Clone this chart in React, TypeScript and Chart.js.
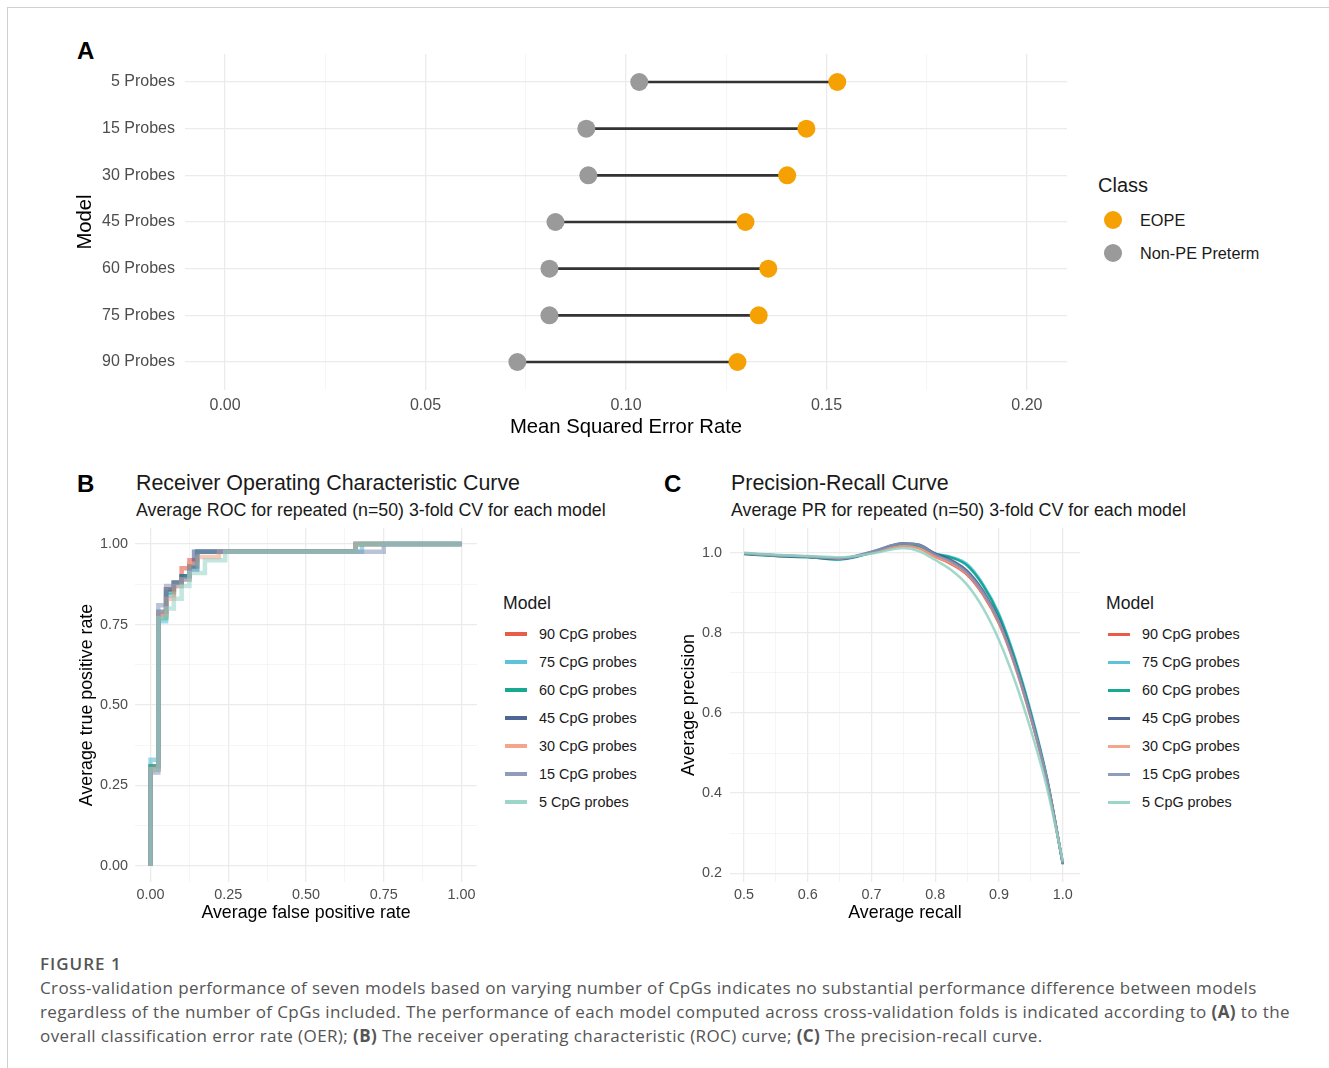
import React, { useEffect, useRef } from 'react';
import { Chart, registerables } from 'chart.js';
Chart.register(...registerables);

const FONT = "'Liberation Sans', Arial, Helvetica, sans-serif";

// ---------- Panel A data ----------
const modelsA = ['5 Probes', '15 Probes', '30 Probes', '45 Probes', '60 Probes', '75 Probes', '90 Probes'];
const eopeMSE = [0.1527, 0.1450, 0.1402, 0.1298, 0.1355, 0.1331, 0.1278];
const nonPeMSE = [0.1033, 0.0901, 0.0906, 0.0824, 0.0809, 0.0809, 0.0729];
const xMajorA = [0, 0.05, 0.1, 0.15, 0.2];
const xMinorA = [0.025, 0.075, 0.125, 0.175];
const rowsA = [1, 2, 3, 4, 5, 6, 7];
const classNames = ['EOPE', 'Non-PE Preterm'];
const classColors = ['#F5A104', '#9A9A9A'];

// ---------- Panels B / C ----------
const cpgModels = ['90 CpG probes', '75 CpG probes', '60 CpG probes', '45 CpG probes', '30 CpG probes', '15 CpG probes', '5 CpG probes'];
const cpgColors = ['#E64B35', '#4DBBD5', '#00A087', '#3C5488', '#F39B7F', '#8491B4', '#91D1C2'];

// ROC step points [fpr, tpr]
const roc90 = [[0, 0], [0, 0.31], [0.025, 0.78], [0.05, 0.86], [0.075, 0.88], [0.1, 0.925], [0.125, 0.95], [0.15, 0.976], [0.66, 1], [1, 1]];
const roc75 = [[0, 0], [0, 0.33], [0.025, 0.76], [0.05, 0.84], [0.075, 0.87], [0.1, 0.9], [0.125, 0.92], [0.15, 0.976], [0.68, 1], [1, 1]];
const roc60 = [[0, 0], [0, 0.31], [0.025, 0.77], [0.05, 0.85], [0.075, 0.88], [0.1, 0.9], [0.125, 0.93], [0.15, 0.976], [0.66, 1], [1, 1]];
const roc45 = [[0, 0], [0, 0.3], [0.025, 0.79], [0.05, 0.86], [0.075, 0.88], [0.1, 0.9], [0.125, 0.93], [0.14, 0.976], [0.66, 1], [1, 1]];
const roc30 = [[0, 0], [0, 0.3], [0.025, 0.78], [0.05, 0.83], [0.075, 0.87], [0.1, 0.89], [0.125, 0.94], [0.15, 0.96], [0.22, 0.976], [0.66, 1], [1, 1]];
const roc15 = [[0, 0], [0, 0.29], [0.025, 0.81], [0.05, 0.87], [0.075, 0.88], [0.1, 0.89], [0.125, 0.92], [0.15, 0.976], [0.75, 1], [1, 1]];
const roc5 = [[0, 0], [0, 0.3], [0.025, 0.77], [0.05, 0.8], [0.075, 0.83], [0.1, 0.87], [0.125, 0.91], [0.175, 0.95], [0.24, 0.976], [0.66, 1], [1, 1]];
const rocCurves = [roc90, roc75, roc60, roc45, roc30, roc15, roc5];
const rocMajor = [0, 0.25, 0.5, 0.75, 1];
const rocMinor = [0.125, 0.375, 0.625, 0.875];

// PR smoothed curves
const prRecall = [0.5, 0.55, 0.6, 0.65, 0.7, 0.75, 0.775, 0.8, 0.825, 0.85, 0.875, 0.9, 0.925, 0.95, 0.975, 1.0];
const pr90 = [0.998, 0.994, 0.99, 0.986, 1.0, 1.018, 1.012, 0.99, 0.972, 0.945, 0.895, 0.823, 0.718, 0.587, 0.433, 0.226];
const pr75 = [0.998, 0.993, 0.99, 0.983, 1.0, 1.021, 1.018, 0.998, 0.99, 0.972, 0.922, 0.848, 0.738, 0.603, 0.44, 0.224];
const pr60 = [0.997, 0.992, 0.989, 0.984, 1.0, 1.02, 1.016, 0.997, 0.988, 0.968, 0.918, 0.843, 0.733, 0.598, 0.437, 0.222];
const pr45 = [0.998, 0.993, 0.99, 0.985, 1.002, 1.024, 1.02, 0.998, 0.982, 0.955, 0.905, 0.832, 0.725, 0.592, 0.435, 0.224];
const pr30 = [0.999, 0.994, 0.991, 0.986, 1.0, 1.017, 1.011, 0.99, 0.974, 0.948, 0.898, 0.826, 0.72, 0.588, 0.433, 0.225];
const pr15 = [0.999, 0.994, 0.991, 0.986, 1.003, 1.023, 1.019, 0.996, 0.978, 0.95, 0.9, 0.828, 0.722, 0.59, 0.434, 0.225];
const pr5 = [1.0, 0.995, 0.992, 0.989, 0.998, 1.012, 1.004, 0.982, 0.957, 0.92, 0.862, 0.782, 0.68, 0.557, 0.415, 0.23];
const prCurves = [pr90, pr75, pr60, pr45, pr30, pr15, pr5];
const prXMajor = [0.5, 0.6, 0.7, 0.8, 0.9, 1.0];
const prXMinor = [0.55, 0.65, 0.75, 0.85, 0.95];
const prYMajor = [0.2, 0.4, 0.6, 0.8, 1.0];
const prYMinor = [0.3, 0.5, 0.7, 0.9];

// ---------- helpers ----------
const near = (a: number, b: number) => Math.abs(a - b) < 1e-9;

function rgba(hex: string, a: number) {
  const n = parseInt(hex.slice(1), 16);
  return `rgba(${(n >> 16) & 255},${(n >> 8) & 255},${n & 255},${a})`;
}

function axis(o: any) {
  const all = [...o.major, ...o.minor].sort((a: number, b: number) => a - b);
  const isMajor = (v: number) => o.major.some((m: number) => near(m, v));
  const left = o.position === 'left';
  return {
    type: 'linear',
    position: o.position,
    min: o.min,
    max: o.max,
    reverse: !!o.reverse,
    offset: false,
    afterBuildTicks: (s: any) => {
      s.ticks = all.map((v: number) => ({ value: v }));
    },
    afterFit: (s: any) => {
      if (left) s.width = o.size;
      else s.height = o.size;
      s.paddingTop = 0;
      s.paddingBottom = 0;
      s.paddingLeft = 0;
      s.paddingRight = 0;
    },
    grid: {
      offset: false,
      drawTicks: false,
      color: (c: any) => (c.tick && isMajor(c.tick.value) ? '#EBEBEB' : '#F3F3F3'),
      lineWidth: (c: any) => (c.tick && isMajor(c.tick.value) ? 1.3 : 0.8),
    },
    border: { display: false },
    ticks: {
      autoSkip: false,
      maxRotation: 0,
      minRotation: 0,
      padding: o.pad,
      color: '#4D4D4D',
      font: { family: FONT, size: o.fontSize },
      callback: (v: number) => (isMajor(v) ? o.fmt(v) : ''),
    },
    title: {
      display: true,
      text: o.title,
      color: '#000000',
      font: { family: FONT, size: o.titleSize },
      padding: left ? { top: o.titlePad, bottom: 0 } : { top: 0, bottom: o.titlePad },
    },
  };
}

function useChart(config: any) {
  const ref = useRef<HTMLCanvasElement | null>(null);
  useEffect(() => {
    if (!ref.current) return;
    const chart = new Chart(ref.current, config);
    return () => chart.destroy();
  }, []);
  return ref;
}

const baseOptions = (padding: any) => ({
  animation: false,
  responsive: false,
  maintainAspectRatio: false,
  devicePixelRatio: 1,
  events: [],
  layout: { padding },
  plugins: { legend: { display: false }, tooltip: { enabled: false }, title: { display: false } },
});

// ---------- Chart configs ----------
const configA = {
  type: 'bar',
  data: {
    datasets: [
      {
        type: 'scatter',
        label: classNames[0],
        data: rowsA.map((r, i) => ({ x: eopeMSE[i], y: r })),
        backgroundColor: classColors[0],
        pointRadius: 9,
        pointBorderWidth: 0,
        order: 0,
      },
      {
        type: 'scatter',
        label: classNames[1],
        data: rowsA.map((r, i) => ({ x: nonPeMSE[i], y: r })),
        backgroundColor: classColors[1],
        pointRadius: 9,
        pointBorderWidth: 0,
        order: 1,
      },
      {
        type: 'bar',
        label: 'range',
        indexAxis: 'y',
        data: rowsA.map((r, i) => ({ x: [nonPeMSE[i], eopeMSE[i]], y: r })),
        backgroundColor: '#333333',
        barThickness: 2,
        borderWidth: 0,
        order: 2,
      },
    ],
  },
  options: {
    ...baseOptions({ top: 14, right: 23, left: 0, bottom: 0 }),
    indexAxis: 'y',
    scales: {
      x: axis({
        position: 'bottom', min: -0.01, max: 0.21, major: xMajorA, minor: xMinorA,
        fmt: (v: number) => v.toFixed(2), size: 60, pad: 6, fontSize: 16,
        title: 'Mean Squared Error Rate', titleSize: 20.3, titlePad: 10.8,
      }),
      y: axis({
        position: 'left', min: 0.4, max: 7.6, reverse: true, major: rowsA, minor: [],
        fmt: (v: number) => modelsA[Math.round(v) - 1], size: 125, pad: 10, fontSize: 16,
        title: 'Model', titleSize: 20.3, titlePad: 12.8,
      }),
    },
  },
};

const configB = {
  type: 'scatter',
  data: {
    datasets: rocCurves.map((c, i) => ({
      label: cpgModels[i],
      data: c.map(([x, y]) => ({ x, y })),
      showLine: true,
      stepped: 'before',
      borderColor: rgba(cpgColors[i], 0.55),
      backgroundColor: rgba(cpgColors[i], 0.55),
      borderWidth: 4.5,
      pointRadius: 0,
      order: cpgModels.length - 1 - i,
    })),
  },
  options: {
    ...baseOptions({ top: 8, right: 13, left: 0, bottom: 0 }),
    scales: {
      x: axis({
        position: 'bottom', min: -0.05, max: 1.05, major: rocMajor, minor: rocMinor,
        fmt: (v: number) => v.toFixed(2), size: 48, pad: 4.4, fontSize: 14.4,
        title: 'Average false positive rate', titleSize: 17.8, titlePad: 6.3,
      }),
      y: axis({
        position: 'left', min: -0.05, max: 1.05, major: rocMajor, minor: rocMinor,
        fmt: (v: number) => v.toFixed(2), size: 65, pad: 7, fontSize: 14.4,
        title: 'Average true positive rate', titleSize: 17.8, titlePad: 6.3,
      }),
    },
  },
};

const configC = {
  type: 'scatter',
  data: {
    datasets: prCurves.map((c, i) => ({
      label: cpgModels[i],
      data: prRecall.map((r, j) => ({ x: r, y: c[j] })),
      showLine: true,
      cubicInterpolationMode: 'monotone',
      borderColor: rgba(cpgColors[i], 0.85),
      backgroundColor: rgba(cpgColors[i], 0.85),
      borderWidth: 2.5,
      pointRadius: 0,
      order: cpgModels.length - 1 - i,
    })),
  },
  options: {
    ...baseOptions({ top: 8, right: 10, left: 0, bottom: 0 }),
    scales: {
      x: axis({
        position: 'bottom', min: 0.478, max: 1.027, major: prXMajor, minor: prXMinor,
        fmt: (v: number) => v.toFixed(1), size: 48, pad: 4.4, fontSize: 14.4,
        title: 'Average recall', titleSize: 17.8, titlePad: 6.3,
      }),
      y: axis({
        position: 'left', min: 0.178, max: 1.062, major: prYMajor, minor: prYMinor,
        fmt: (v: number) => v.toFixed(1), size: 70, pad: 8, fontSize: 14.4,
        title: 'Average precision', titleSize: 17.8, titlePad: 18.3,
      }),
    },
  },
};

// ---------- UI pieces ----------
function T(props: { x: number; cy: number; size: number; color?: string; weight?: any; family?: string; spacing?: number; children: any }) {
  const lh = Math.round(props.size * 1.25);
  return (
    <div
      style={{
        position: 'absolute',
        left: props.x,
        top: props.cy - lh / 2,
        lineHeight: lh + 'px',
        fontSize: props.size,
        color: props.color || '#1a1a1a',
        fontWeight: props.weight || 400,
        fontFamily: props.family || FONT,
        letterSpacing: props.spacing ? props.spacing + 'px' : undefined,
        whiteSpace: 'nowrap',
      }}
    >
      {props.children}
    </div>
  );
}

function LineLegend(props: { x: number; keyH: number; alpha: number }) {
  const ys = [634, 662, 690, 718, 746, 774, 802];
  return (
    <>
      <T x={props.x - 2} cy={603} size={17.6}>Model</T>
      {cpgModels.map((m, i) => (
        <React.Fragment key={m}>
          <div
            style={{
              position: 'absolute',
              left: props.x,
              top: ys[i] - props.keyH / 2,
              width: 22,
              height: props.keyH,
              background: rgba(cpgColors[i], props.alpha),
            }}
          />
          <T x={props.x + 34} cy={ys[i]} size={14.4}>{m}</T>
        </React.Fragment>
      ))}
    </>
  );
}

export default function App() {
  const refA = useChart(configA);
  const refB = useChart(configB);
  const refC = useChart(configC);
  const capFont = "'Open Sans', 'Noto Sans', sans-serif";
  return (
    <div style={{ position: 'absolute', left: 0, top: 0, width: 1329, height: 1068, background: '#fff', overflow: 'hidden', fontFamily: FONT }}>
      <div style={{ position: 'absolute', left: 7, top: 7, width: 1400, height: 1200, borderTop: '1px solid #d0d0d0', borderLeft: '1px solid #d0d0d0' }} />

      {/* Panel A */}
      <T x={77} cy={51} size={24} weight={700} color="#000">A</T>
      <canvas ref={refA} width={1030} height={410} style={{ position: 'absolute', left: 60, top: 40, width: 1030, height: 410 }} />
      <T x={1098} cy={185} size={20}>Class</T>
      {classNames.map((c, i) => (
        <React.Fragment key={c}>
          <div style={{ position: 'absolute', left: 1104, top: 211 + i * 33, width: 18, height: 18, borderRadius: '50%', background: classColors[i] }} />
          <T x={1140} cy={220 + i * 33} size={16.3}>{c}</T>
        </React.Fragment>
      ))}

      {/* Panel B */}
      <T x={77} cy={484} size={24} weight={700} color="#000">B</T>
      <T x={136} cy={483} size={21.4}>Receiver Operating Characteristic Curve</T>
      <T x={136} cy={510} size={17.8}>Average ROC for repeated (n=50) 3-fold CV for each model</T>
      <canvas ref={refB} width={420} height={410} style={{ position: 'absolute', left: 70, top: 520, width: 420, height: 410 }} />
      <LineLegend x={505} keyH={4} alpha={0.9} />

      {/* Panel C */}
      <T x={664} cy={484} size={24} weight={700} color="#000">C</T>
      <T x={731} cy={483} size={21.4}>Precision-Recall Curve</T>
      <T x={731} cy={510} size={17.8}>Average PR for repeated (n=50) 3-fold CV for each model</T>
      <canvas ref={refC} width={430} height={410} style={{ position: 'absolute', left: 660, top: 520, width: 430, height: 410 }} />
      <LineLegend x={1108} keyH={3} alpha={0.9} />

      {/* Caption */}
      <T x={40} cy={963} size={17} color="#555" family={capFont} weight={600} spacing={1}>FIGURE 1</T>
      <T x={40} cy={987} size={17} color="#555" family={capFont} spacing={0.4}>
        Cross-validation performance of seven models based on varying number of CpGs indicates no substantial performance difference between models
      </T>
      <T x={40} cy={1011} size={17} color="#555" family={capFont} spacing={0.4}>
        regardless of the number of CpGs included. The performance of each model computed across cross-validation folds is indicated according to <b>(A)</b> to the
      </T>
      <T x={40} cy={1035} size={17} color="#555" family={capFont} spacing={0.4}>
        overall classification error rate (OER); <b>(B)</b> The receiver operating characteristic (ROC) curve; <b>(C)</b> The precision-recall curve.
      </T>
    </div>
  );
}
